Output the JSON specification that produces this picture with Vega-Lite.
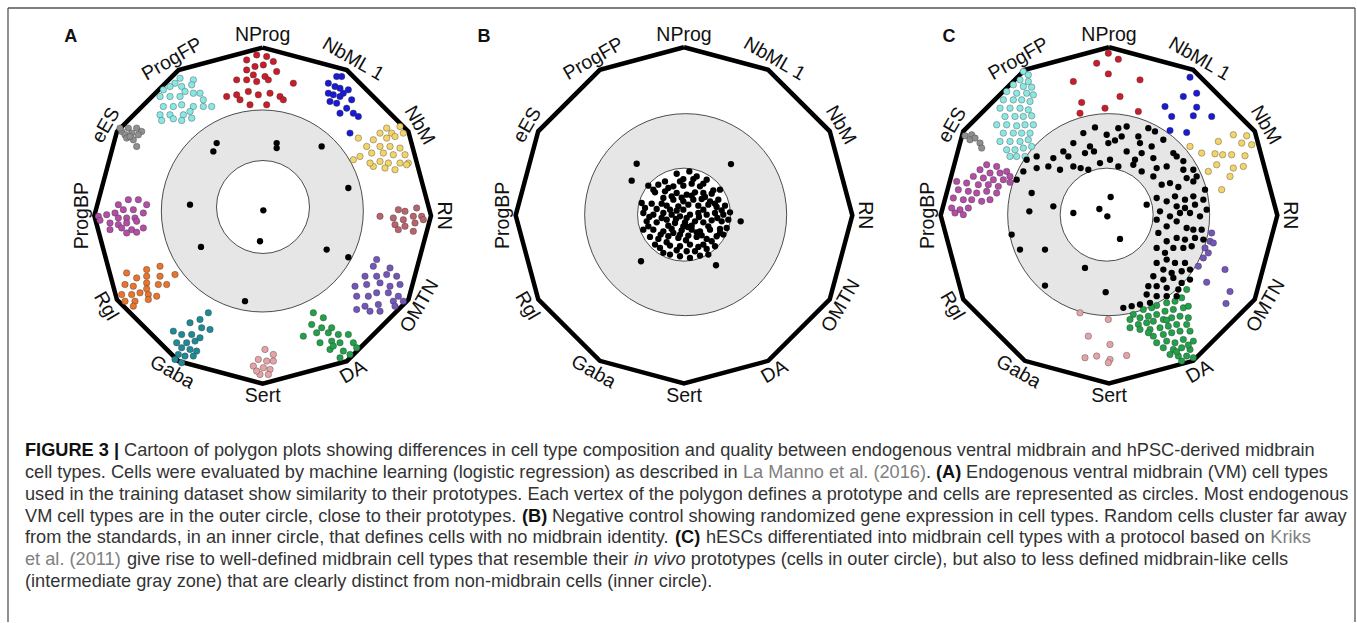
{
"$schema":"https://vega.github.io/schema/vega-lite/v6.json",
"width":1357,"height":623,
"autosize":{"type":"fit","contains":"padding"},
"padding":0,
"background":"white",
"config":{"view":{"stroke":null}},
"datasets":{
"frame":[{"x":24,"y":24,"x2":4065,"y2":24},{"x":24,"y":24,"x2":24,"y2":1869},{"x":4065,"y":24,"x2":4065,"y2":1869}],
"rings":[{"r":"o","x":787,"y":634},{"r":"i","x":789,"y":622},{"r":"o","x":2057,"y":645},{"r":"i","x":2052,"y":645},{"r":"o","x":3326,"y":645},{"r":"i","x":3320,"y":645}],
"poly":[
{"p":"A","k":0,"x":788,"y":143},{"p":"A","k":1,"x":1040.5,"y":210.7},{"p":"A","k":2,"x":1225.3,"y":395.5},{"p":"A","k":3,"x":1293,"y":648},{"p":"A","k":4,"x":1225.3,"y":900.5},{"p":"A","k":5,"x":1040.5,"y":1085.3},{"p":"A","k":6,"x":788,"y":1153},{"p":"A","k":7,"x":535.5,"y":1085.3},{"p":"A","k":8,"x":350.7,"y":900.5},{"p":"A","k":9,"x":283,"y":648},{"p":"A","k":10,"x":350.7,"y":395.5},{"p":"A","k":11,"x":535.5,"y":210.7},{"p":"A","k":12,"x":788,"y":143},
{"p":"B","k":0,"x":2052,"y":142},{"p":"B","k":1,"x":2304.5,"y":209.7},{"p":"B","k":2,"x":2489.3,"y":394.5},{"p":"B","k":3,"x":2557,"y":647},{"p":"B","k":4,"x":2489.3,"y":899.5},{"p":"B","k":5,"x":2304.5,"y":1084.3},{"p":"B","k":6,"x":2052,"y":1152},{"p":"B","k":7,"x":1799.5,"y":1084.3},{"p":"B","k":8,"x":1614.7,"y":899.5},{"p":"B","k":9,"x":1547,"y":647},{"p":"B","k":10,"x":1614.7,"y":394.5},{"p":"B","k":11,"x":1799.5,"y":209.7},{"p":"B","k":12,"x":2052,"y":142},
{"p":"C","k":0,"x":3327,"y":142},{"p":"C","k":1,"x":3579.5,"y":209.7},{"p":"C","k":2,"x":3764.3,"y":394.5},{"p":"C","k":3,"x":3832,"y":647},{"p":"C","k":4,"x":3764.3,"y":899.5},{"p":"C","k":5,"x":3579.5,"y":1084.3},{"p":"C","k":6,"x":3327,"y":1152},{"p":"C","k":7,"x":3074.5,"y":1084.3},{"p":"C","k":8,"x":2889.7,"y":899.5},{"p":"C","k":9,"x":2822,"y":647},{"p":"C","k":10,"x":2889.7,"y":394.5},{"p":"C","k":11,"x":3074.5,"y":209.7},{"p":"C","k":12,"x":3327,"y":142}
],
"labels":[
{"t":"NProg","k":0,"x":788,"y":105},{"t":"NbML 1","k":1,"x":1059.5,"y":177.8},{"t":"NbM","k":2,"x":1258.2,"y":376.5},{"t":"RN","k":3,"x":1331,"y":648},{"t":"OMTN","k":4,"x":1258.2,"y":919.5},{"t":"DA","k":5,"x":1059.5,"y":1118.2},{"t":"Sert","k":6,"x":788,"y":1191},{"t":"Gaba","k":7,"x":516.5,"y":1118.2},{"t":"Rgl","k":8,"x":317.8,"y":919.5},{"t":"ProgBP","k":9,"x":245,"y":648},{"t":"eES","k":10,"x":317.8,"y":376.5},{"t":"ProgFP","k":11,"x":516.5,"y":177.8},
{"t":"NProg","k":0,"x":2052,"y":104},{"t":"NbML 1","k":1,"x":2323.5,"y":176.8},{"t":"NbM","k":2,"x":2522.2,"y":375.5},{"t":"RN","k":3,"x":2595,"y":647},{"t":"OMTN","k":4,"x":2522.2,"y":918.5},{"t":"DA","k":5,"x":2323.5,"y":1117.2},{"t":"Sert","k":6,"x":2052,"y":1190},{"t":"Gaba","k":7,"x":1780.5,"y":1117.2},{"t":"Rgl","k":8,"x":1581.8,"y":918.5},{"t":"ProgBP","k":9,"x":1509,"y":647},{"t":"eES","k":10,"x":1581.8,"y":375.5},{"t":"ProgFP","k":11,"x":1780.5,"y":176.8},
{"t":"NProg","k":0,"x":3327,"y":104},{"t":"NbML 1","k":1,"x":3598.5,"y":176.8},{"t":"NbM","k":2,"x":3797.2,"y":375.5},{"t":"RN","k":3,"x":3870,"y":647},{"t":"OMTN","k":4,"x":3797.2,"y":918.5},{"t":"DA","k":5,"x":3598.5,"y":1117.2},{"t":"Sert","k":6,"x":3327,"y":1190},{"t":"Gaba","k":7,"x":3055.5,"y":1117.2},{"t":"Rgl","k":8,"x":2856.8,"y":918.5},{"t":"ProgBP","k":9,"x":2784,"y":647},{"t":"eES","k":10,"x":2856.8,"y":375.5},{"t":"ProgFP","k":11,"x":3055.5,"y":176.8}
],
"letters":[{"t":"A","x":212,"y":111},{"t":"B","x":1452,"y":111},{"t":"C","x":2847,"y":111}],
"cap":[
{"k":"b","x":75,"y":1356,"t":"FIGURE 3 |"},
{"k":"n","x":372,"y":1356,"t":"Cartoon of polygon plots showing differences in cell type composition and quality between endogenous ventral midbrain and hPSC-derived midbrain"},
{"k":"n","x":75,"y":1421,"t":"cell types. Cells were evaluated by machine learning (logistic regression) as described in"},
{"k":"l","x":2229,"y":1421,"t":"La Manno et al. (2016)"},
{"k":"n","x":2778,"y":1421,"t":"."},
{"k":"b","x":2808,"y":1421,"t":"(A)"},
{"k":"n","x":2898,"y":1421,"t":"Endogenous ventral midbrain (VM) cell types"},
{"k":"n","x":75,"y":1487,"t":"used in the training dataset show similarity to their prototypes. Each vertex of the polygon defines a prototype and cells are represented as circles. Most endogenous"},
{"k":"n","x":75,"y":1552,"t":"VM cell types are in the outer circle, close to their prototypes."},
{"k":"b","x":1566,"y":1552,"t":"(B)"},
{"k":"n","x":1656,"y":1552,"t":"Negative control showing randomized gene expression in cell types. Random cells cluster far away"},
{"k":"n","x":75,"y":1618,"t":"from the standards, in an inner circle, that defines cells with no midbrain identity."},
{"k":"b","x":2025,"y":1618,"t":"(C)"},
{"k":"n","x":2118,"y":1618,"t":"hESCs differentiated into midbrain cell types with a protocol based on"},
{"k":"l","x":3811,"y":1618,"t":"Kriks"},
{"k":"l","x":75,"y":1683,"t":"et al. (2011)"},
{"k":"n","x":381,"y":1683,"t":"give rise to well-defined midbrain cell types that resemble their"},
{"k":"i","x":1902,"y":1683,"t":"in vivo"},
{"k":"n","x":2072,"y":1683,"t":"prototypes (cells in outer circle), but also to less defined midbrain-like cells"},
{"k":"n","x":75,"y":1748,"t":"(intermediate gray zone) that are clearly distinct from non-midbrain cells (inner circle)."}
],
"pts":[
{"c":"NProg","x":740,"y":180},{"c":"NProg","x":770,"y":165},{"c":"NProg","x":800,"y":170},{"c":"NProg","x":820,"y":185},{"c":"NProg","x":740,"y":210},{"c":"NProg","x":765,"y":200},{"c":"NProg","x":790,"y":195},{"c":"NProg","x":760,"y":225},{"c":"NProg","x":795,"y":230},{"c":"NProg","x":830,"y":215},{"c":"NProg","x":710,"y":240},{"c":"NProg","x":740,"y":240},{"c":"NProg","x":770,"y":245},{"c":"NProg","x":805,"y":240},{"c":"NProg","x":880,"y":250},{"c":"NProg","x":680,"y":290},{"c":"NProg","x":710,"y":285},{"c":"NProg","x":745,"y":275},{"c":"NProg","x":775,"y":285},{"c":"NProg","x":810,"y":280},{"c":"NProg","x":840,"y":290},{"c":"NProg","x":850,"y":300},{"c":"NProg","x":800,"y":315},{"c":"NProg","x":750,"y":315},{"c":"NProg","x":720,"y":300},
{"c":"NbML1","x":1010,"y":230},{"c":"NbML1","x":1025,"y":230},{"c":"NbML1","x":985,"y":250},{"c":"NbML1","x":1005,"y":260},{"c":"NbML1","x":1020,"y":265},{"c":"NbML1","x":1045,"y":270},{"c":"NbML1","x":985,"y":280},{"c":"NbML1","x":1000,"y":285},{"c":"NbML1","x":1020,"y":290},{"c":"NbML1","x":1030,"y":280},{"c":"NbML1","x":1055,"y":300},{"c":"NbML1","x":990,"y":305},{"c":"NbML1","x":1010,"y":310},{"c":"NbML1","x":1040,"y":325},{"c":"NbML1","x":1020,"y":340},{"c":"NbML1","x":1060,"y":340},{"c":"NbML1","x":1075,"y":350},{"c":"NbML1","x":1050,"y":400},
{"c":"NbM","x":1160,"y":385},{"c":"NbM","x":1200,"y":380},{"c":"NbM","x":1140,"y":400},{"c":"NbM","x":1175,"y":400},{"c":"NbM","x":1210,"y":400},{"c":"NbM","x":1075,"y":415},{"c":"NbM","x":1120,"y":420},{"c":"NbM","x":1160,"y":415},{"c":"NbM","x":1185,"y":410},{"c":"NbM","x":1100,"y":440},{"c":"NbM","x":1140,"y":440},{"c":"NbM","x":1170,"y":440},{"c":"NbM","x":1200,"y":445},{"c":"NbM","x":1080,"y":470},{"c":"NbM","x":1115,"y":460},{"c":"NbM","x":1150,"y":460},{"c":"NbM","x":1180,"y":465},{"c":"NbM","x":1215,"y":465},{"c":"NbM","x":1140,"y":485},{"c":"NbM","x":1165,"y":490},{"c":"NbM","x":1200,"y":490},{"c":"NbM","x":1225,"y":490},{"c":"NbM","x":1120,"y":500},{"c":"NbM","x":1155,"y":505},{"c":"NbM","x":1185,"y":510},{"c":"NbM","x":1220,"y":495},{"c":"NbM","x":1060,"y":480},{"c":"NbM","x":1110,"y":490},
{"c":"RN","x":1140,"y":650},{"c":"RN","x":1195,"y":630},{"c":"RN","x":1215,"y":635},{"c":"RN","x":1250,"y":625},{"c":"RN","x":1180,"y":655},{"c":"RN","x":1210,"y":660},{"c":"RN","x":1240,"y":650},{"c":"RN","x":1265,"y":650},{"c":"RN","x":1185,"y":675},{"c":"RN","x":1215,"y":680},{"c":"RN","x":1245,"y":670},{"c":"RN","x":1270,"y":660},{"c":"RN","x":1195,"y":690},{"c":"RN","x":1240,"y":695},
{"c":"OMTN","x":1130,"y":780},{"c":"OMTN","x":1120,"y":800},{"c":"OMTN","x":1170,"y":805},{"c":"OMTN","x":1095,"y":830},{"c":"OMTN","x":1130,"y":830},{"c":"OMTN","x":1160,"y":825},{"c":"OMTN","x":1190,"y":830},{"c":"OMTN","x":1065,"y":860},{"c":"OMTN","x":1100,"y":855},{"c":"OMTN","x":1140,"y":850},{"c":"OMTN","x":1170,"y":860},{"c":"OMTN","x":1200,"y":855},{"c":"OMTN","x":1070,"y":890},{"c":"OMTN","x":1105,"y":890},{"c":"OMTN","x":1130,"y":880},{"c":"OMTN","x":1165,"y":880},{"c":"OMTN","x":1195,"y":890},{"c":"OMTN","x":1070,"y":930},{"c":"OMTN","x":1095,"y":920},{"c":"OMTN","x":1135,"y":915},{"c":"OMTN","x":1180,"y":905},{"c":"OMTN","x":1210,"y":905},{"c":"OMTN","x":1110,"y":935},{"c":"OMTN","x":1140,"y":935},{"c":"OMTN","x":1185,"y":920},
{"c":"DA","x":940,"y":940},{"c":"DA","x":970,"y":955},{"c":"DA","x":935,"y":975},{"c":"DA","x":965,"y":985},{"c":"DA","x":995,"y":985},{"c":"DA","x":910,"y":1010},{"c":"DA","x":950,"y":1000},{"c":"DA","x":985,"y":1000},{"c":"DA","x":1015,"y":1005},{"c":"DA","x":1045,"y":1005},{"c":"DA","x":960,"y":1030},{"c":"DA","x":995,"y":1025},{"c":"DA","x":1020,"y":1030},{"c":"DA","x":1060,"y":1030},{"c":"DA","x":990,"y":1050},{"c":"DA","x":1030,"y":1055},{"c":"DA","x":1020,"y":1075},{"c":"DA","x":1050,"y":1065},{"c":"DA","x":1000,"y":1040},{"c":"DA","x":1070,"y":1045},
{"c":"Sert","x":795,"y":1050},{"c":"Sert","x":820,"y":1065},{"c":"Sert","x":775,"y":1080},{"c":"Sert","x":800,"y":1085},{"c":"Sert","x":820,"y":1085},{"c":"Sert","x":760,"y":1100},{"c":"Sert","x":790,"y":1105},{"c":"Sert","x":810,"y":1110},{"c":"Sert","x":780,"y":1125},{"c":"Sert","x":805,"y":1125},{"c":"Sert","x":770,"y":1115},
{"c":"Gaba","x":625,"y":940},{"c":"Gaba","x":600,"y":960},{"c":"Gaba","x":570,"y":970},{"c":"Gaba","x":605,"y":985},{"c":"Gaba","x":630,"y":990},{"c":"Gaba","x":520,"y":995},{"c":"Gaba","x":545,"y":1005},{"c":"Gaba","x":575,"y":1005},{"c":"Gaba","x":600,"y":1015},{"c":"Gaba","x":530,"y":1030},{"c":"Gaba","x":560,"y":1030},{"c":"Gaba","x":585,"y":1025},{"c":"Gaba","x":545,"y":1045},{"c":"Gaba","x":570,"y":1050},{"c":"Gaba","x":590,"y":1055},{"c":"Gaba","x":535,"y":1065},{"c":"Gaba","x":555,"y":1070},{"c":"Gaba","x":580,"y":1070},{"c":"Gaba","x":545,"y":1090},{"c":"Gaba","x":525,"y":1080},
{"c":"Rgl","x":480,"y":800},{"c":"Rgl","x":440,"y":810},{"c":"Rgl","x":480,"y":830},{"c":"Rgl","x":440,"y":830},{"c":"Rgl","x":525,"y":825},{"c":"Rgl","x":380,"y":820},{"c":"Rgl","x":410,"y":835},{"c":"Rgl","x":375,"y":855},{"c":"Rgl","x":400,"y":860},{"c":"Rgl","x":440,"y":850},{"c":"Rgl","x":475,"y":855},{"c":"Rgl","x":500,"y":855},{"c":"Rgl","x":365,"y":885},{"c":"Rgl","x":395,"y":885},{"c":"Rgl","x":420,"y":880},{"c":"Rgl","x":445,"y":885},{"c":"Rgl","x":470,"y":890},{"c":"Rgl","x":375,"y":905},{"c":"Rgl","x":405,"y":905},{"c":"Rgl","x":445,"y":900},{"c":"Rgl","x":400,"y":920},{"c":"Rgl","x":440,"y":868},
{"c":"ProgBP","x":385,"y":600},{"c":"ProgBP","x":415,"y":600},{"c":"ProgBP","x":440,"y":615},{"c":"ProgBP","x":355,"y":615},{"c":"ProgBP","x":370,"y":630},{"c":"ProgBP","x":400,"y":630},{"c":"ProgBP","x":430,"y":640},{"c":"ProgBP","x":295,"y":650},{"c":"ProgBP","x":320,"y":645},{"c":"ProgBP","x":345,"y":640},{"c":"ProgBP","x":355,"y":655},{"c":"ProgBP","x":380,"y":655},{"c":"ProgBP","x":405,"y":655},{"c":"ProgBP","x":330,"y":670},{"c":"ProgBP","x":355,"y":675},{"c":"ProgBP","x":380,"y":670},{"c":"ProgBP","x":410,"y":665},{"c":"ProgBP","x":330,"y":690},{"c":"ProgBP","x":365,"y":685},{"c":"ProgBP","x":395,"y":690},{"c":"ProgBP","x":430,"y":685},{"c":"ProgBP","x":380,"y":700},{"c":"ProgBP","x":410,"y":698},{"c":"ProgBP","x":300,"y":662},
{"c":"eES","x":365,"y":395},{"c":"eES","x":385,"y":385},{"c":"eES","x":410,"y":385},{"c":"eES","x":425,"y":395},{"c":"eES","x":375,"y":405},{"c":"eES","x":395,"y":400},{"c":"eES","x":415,"y":405},{"c":"eES","x":380,"y":415},{"c":"eES","x":400,"y":420},{"c":"eES","x":410,"y":440},{"c":"eES","x":390,"y":410},{"c":"eES","x":360,"y":385},
{"c":"ProgFP","x":540,"y":235},{"c":"ProgFP","x":525,"y":250},{"c":"ProgFP","x":580,"y":240},{"c":"ProgFP","x":510,"y":260},{"c":"ProgFP","x":490,"y":270},{"c":"ProgFP","x":545,"y":260},{"c":"ProgFP","x":575,"y":255},{"c":"ProgFP","x":555,"y":275},{"c":"ProgFP","x":480,"y":290},{"c":"ProgFP","x":510,"y":290},{"c":"ProgFP","x":540,"y":290},{"c":"ProgFP","x":580,"y":280},{"c":"ProgFP","x":600,"y":280},{"c":"ProgFP","x":490,"y":320},{"c":"ProgFP","x":520,"y":320},{"c":"ProgFP","x":545,"y":315},{"c":"ProgFP","x":580,"y":320},{"c":"ProgFP","x":610,"y":320},{"c":"ProgFP","x":635,"y":320},{"c":"ProgFP","x":480,"y":345},{"c":"ProgFP","x":510,"y":345},{"c":"ProgFP","x":550,"y":345},{"c":"ProgFP","x":575,"y":355},{"c":"ProgFP","x":520,"y":357},{"c":"ProgFP","x":485,"y":362},{"c":"ProgFP","x":545,"y":362},{"c":"ProgFP","x":570,"y":335},{"c":"ProgFP","x":610,"y":300},
{"c":"none","x":650,"y":430},{"c":"none","x":640,"y":455},{"c":"none","x":830,"y":430},{"c":"none","x":830,"y":445},{"c":"none","x":965,"y":440},{"c":"none","x":1045,"y":565},{"c":"none","x":570,"y":615},{"c":"none","x":790,"y":632},{"c":"none","x":780,"y":725},{"c":"none","x":603,"y":742},{"c":"none","x":980,"y":750},{"c":"none","x":1045,"y":773},{"c":"none","x":735,"y":905},
{"c":"none","x":1910,"y":492},{"c":"none","x":2193,"y":493},{"c":"none","x":1895,"y":543},{"c":"none","x":2222,"y":665},{"c":"none","x":1923,"y":785},{"c":"none","x":2148,"y":797},
{"c":"none","x":2030,"y":522},{"c":"none","x":2068,"y":515},{"c":"none","x":2090,"y":530},{"c":"none","x":2120,"y":540},{"c":"none","x":1995,"y":545},{"c":"none","x":2050,"y":538},{"c":"none","x":1945,"y":558},{"c":"none","x":1975,"y":555},{"c":"none","x":2020,"y":560},{"c":"none","x":2050,"y":558},{"c":"none","x":2075,"y":552},{"c":"none","x":2100,"y":560},{"c":"none","x":2140,"y":572},{"c":"none","x":2160,"y":570},{"c":"none","x":1965,"y":578},{"c":"none","x":1995,"y":575},{"c":"none","x":2030,"y":580},{"c":"none","x":2060,"y":585},{"c":"none","x":2085,"y":578},{"c":"none","x":2110,"y":580},{"c":"none","x":2135,"y":582},{"c":"none","x":1990,"y":595},{"c":"none","x":2020,"y":600},{"c":"none","x":2050,"y":605},{"c":"none","x":2080,"y":600},{"c":"none","x":2105,"y":598},{"c":"none","x":2130,"y":605},{"c":"none","x":2155,"y":600},{"c":"none","x":1925,"y":610},{"c":"none","x":1955,"y":612},{"c":"none","x":1970,"y":628},{"c":"none","x":2000,"y":618},{"c":"none","x":2035,"y":620},{"c":"none","x":2065,"y":615},{"c":"none","x":2095,"y":618},{"c":"none","x":2125,"y":615},{"c":"none","x":2150,"y":622},{"c":"none","x":2175,"y":618},{"c":"none","x":1930,"y":640},{"c":"none","x":1960,"y":645},{"c":"none","x":1990,"y":640},{"c":"none","x":2015,"y":645},{"c":"none","x":2040,"y":650},{"c":"none","x":2070,"y":645},{"c":"none","x":2095,"y":640},{"c":"none","x":2120,"y":645},{"c":"none","x":2145,"y":640},{"c":"none","x":2170,"y":645},{"c":"none","x":2190,"y":638},{"c":"none","x":1940,"y":665},{"c":"none","x":1970,"y":668},{"c":"none","x":2000,"y":660},{"c":"none","x":2025,"y":670},{"c":"none","x":2055,"y":668},{"c":"none","x":2085,"y":665},{"c":"none","x":2110,"y":668},{"c":"none","x":2135,"y":662},{"c":"none","x":2165,"y":665},{"c":"none","x":2185,"y":660},{"c":"none","x":1930,"y":690},{"c":"none","x":1960,"y":690},{"c":"none","x":1990,"y":695},{"c":"none","x":2015,"y":688},{"c":"none","x":2045,"y":692},{"c":"none","x":2075,"y":690},{"c":"none","x":2100,"y":695},{"c":"none","x":2130,"y":690},{"c":"none","x":2160,"y":688},{"c":"none","x":2180,"y":685},{"c":"none","x":1950,"y":712},{"c":"none","x":1975,"y":718},{"c":"none","x":2005,"y":710},{"c":"none","x":2035,"y":715},{"c":"none","x":2065,"y":708},{"c":"none","x":2090,"y":712},{"c":"none","x":2120,"y":718},{"c":"none","x":2150,"y":710},{"c":"none","x":2170,"y":705},{"c":"none","x":1980,"y":745},{"c":"none","x":2010,"y":738},{"c":"none","x":2040,"y":740},{"c":"none","x":2070,"y":735},{"c":"none","x":2095,"y":742},{"c":"none","x":2120,"y":748},{"c":"none","x":2145,"y":740},{"c":"none","x":2010,"y":765},{"c":"none","x":2040,"y":770},{"c":"none","x":2070,"y":775},{"c":"none","x":2100,"y":768},{"c":"none","x":1990,"y":760},{"c":"none","x":2125,"y":765},{"c":"none","x":2050,"y":630},{"c":"none","x":2030,"y":633},{"c":"none","x":2060,"y":655},{"c":"none","x":2075,"y":678},{"c":"none","x":2040,"y":705},{"c":"none","x":2050,"y":680},{"c":"none","x":2010,"y":630},{"c":"none","x":2090,"y":698},{"c":"none","x":2005,"y":678},{"c":"none","x":2110,"y":630},
{"c":"none","x":1935,"y":625},{"c":"none","x":1985,"y":612},{"c":"none","x":2015,"y":590},{"c":"none","x":2045,"y":594},{"c":"none","x":2075,"y":588},{"c":"none","x":2115,"y":592},{"c":"none","x":2145,"y":612},{"c":"none","x":2165,"y":632},{"c":"none","x":1948,"y":652},{"c":"none","x":1985,"y":655},{"c":"none","x":2028,"y":658},{"c":"none","x":2063,"y":682},{"c":"none","x":2097,"y":652},{"c":"none","x":2125,"y":680},{"c":"none","x":2152,"y":655},{"c":"none","x":1945,"y":680},{"c":"none","x":1982,"y":705},{"c":"none","x":2020,"y":700},{"c":"none","x":2058,"y":722},{"c":"none","x":2105,"y":707},{"c":"none","x":2135,"y":725},{"c":"none","x":2160,"y":700},{"c":"none","x":2000,"y":728},{"c":"none","x":2030,"y":752},{"c":"none","x":2060,"y":755},{"c":"none","x":2085,"y":755},{"c":"none","x":2110,"y":735},{"c":"none","x":1965,"y":735},{"c":"none","x":2005,"y":565},{"c":"none","x":2110,"y":552},{"c":"none","x":2080,"y":538},{"c":"none","x":2040,"y":545},{"c":"none","x":1960,"y":570},
{"c":"NProg","x":3325,"y":160},{"c":"NProg","x":3355,"y":178},{"c":"NProg","x":3290,"y":190},{"c":"NProg","x":3325,"y":222},{"c":"NProg","x":3420,"y":240},{"c":"NProg","x":3220,"y":245},{"c":"NProg","x":3360,"y":290},{"c":"NProg","x":3245,"y":308},{"c":"NProg","x":3315,"y":325},{"c":"NProg","x":3415,"y":335},{"c":"NProg","x":3240,"y":340},
{"c":"NbML1","x":3570,"y":232},{"c":"NbML1","x":3590,"y":280},{"c":"NbML1","x":3550,"y":290},{"c":"NbML1","x":3495,"y":320},{"c":"NbML1","x":3590,"y":322},{"c":"NbML1","x":3580,"y":348},{"c":"NbML1","x":3515,"y":350},{"c":"NbML1","x":3635,"y":350},{"c":"NbML1","x":3510,"y":392},{"c":"NbML1","x":3560,"y":398},
{"c":"NbM","x":3700,"y":405},{"c":"NbM","x":3740,"y":408},{"c":"NbM","x":3725,"y":430},{"c":"NbM","x":3755,"y":435},{"c":"NbM","x":3570,"y":440},{"c":"NbM","x":3655,"y":425},{"c":"NbM","x":3605,"y":460},{"c":"NbM","x":3645,"y":462},{"c":"NbM","x":3668,"y":465},{"c":"NbM","x":3695,"y":465},{"c":"NbM","x":3735,"y":468},{"c":"NbM","x":3730,"y":500},{"c":"NbM","x":3700,"y":505},{"c":"NbM","x":3650,"y":495},{"c":"NbM","x":3625,"y":515},{"c":"NbM","x":3690,"y":530},{"c":"NbM","x":3665,"y":570},
{"c":"OMTN","x":3635,"y":700},{"c":"OMTN","x":3630,"y":725},{"c":"OMTN","x":3615,"y":745},{"c":"OMTN","x":3625,"y":760},{"c":"OMTN","x":3610,"y":775},{"c":"OMTN","x":3595,"y":800},{"c":"OMTN","x":3675,"y":810},{"c":"OMTN","x":3620,"y":848},{"c":"OMTN","x":3690,"y":876},{"c":"OMTN","x":3678,"y":912},{"c":"OMTN","x":3640,"y":730},
{"c":"DA","x":3560,"y":870},{"c":"DA","x":3545,"y":895},{"c":"DA","x":3525,"y":905},{"c":"DA","x":3500,"y":910},{"c":"DA","x":3470,"y":918},{"c":"DA","x":3455,"y":925},{"c":"DA","x":3430,"y":930},{"c":"DA","x":3400,"y":945},{"c":"DA","x":3390,"y":960},{"c":"DA","x":3420,"y":955},{"c":"DA","x":3445,"y":950},{"c":"DA","x":3470,"y":945},{"c":"DA","x":3495,"y":935},{"c":"DA","x":3520,"y":930},{"c":"DA","x":3550,"y":925},{"c":"DA","x":3565,"y":920},{"c":"DA","x":3415,"y":975},{"c":"DA","x":3440,"y":970},{"c":"DA","x":3460,"y":965},{"c":"DA","x":3490,"y":960},{"c":"DA","x":3515,"y":955},{"c":"DA","x":3540,"y":950},{"c":"DA","x":3565,"y":955},{"c":"DA","x":3390,"y":985},{"c":"DA","x":3420,"y":990},{"c":"DA","x":3450,"y":990},{"c":"DA","x":3480,"y":985},{"c":"DA","x":3505,"y":980},{"c":"DA","x":3530,"y":975},{"c":"DA","x":3560,"y":975},{"c":"DA","x":3460,"y":1010},{"c":"DA","x":3490,"y":1005},{"c":"DA","x":3515,"y":1000},{"c":"DA","x":3540,"y":995},{"c":"DA","x":3570,"y":995},{"c":"DA","x":3470,"y":1030},{"c":"DA","x":3500,"y":1025},{"c":"DA","x":3525,"y":1030},{"c":"DA","x":3550,"y":1020},{"c":"DA","x":3580,"y":1025},{"c":"DA","x":3490,"y":1045},{"c":"DA","x":3520,"y":1050},{"c":"DA","x":3545,"y":1045},{"c":"DA","x":3570,"y":1050},{"c":"DA","x":3510,"y":1065},{"c":"DA","x":3535,"y":1070},{"c":"DA","x":3560,"y":1070},{"c":"DA","x":3580,"y":1075},{"c":"DA","x":3545,"y":1085},{"c":"DA","x":3530,"y":1057},{"c":"DA","x":3565,"y":1037},{"c":"DA","x":3500,"y":962},{"c":"DA","x":3445,"y":1000},
{"c":"Sert","x":3240,"y":940},{"c":"Sert","x":3325,"y":960},{"c":"Sert","x":3265,"y":1010},{"c":"Sert","x":3330,"y":1035},{"c":"Sert","x":3255,"y":1075},{"c":"Sert","x":3290,"y":1070},{"c":"Sert","x":3330,"y":1080},{"c":"Sert","x":3380,"y":1068},{"c":"Sert","x":3325,"y":1090},
{"c":"eES","x":2895,"y":408},{"c":"eES","x":2915,"y":405},{"c":"eES","x":2910,"y":420},{"c":"eES","x":2940,"y":430},{"c":"eES","x":2945,"y":445},{"c":"eES","x":2925,"y":415},
{"c":"ProgBP","x":2960,"y":495},{"c":"ProgBP","x":2990,"y":500},{"c":"ProgBP","x":2940,"y":510},{"c":"ProgBP","x":2970,"y":520},{"c":"ProgBP","x":3000,"y":520},{"c":"ProgBP","x":3020,"y":515},{"c":"ProgBP","x":2920,"y":530},{"c":"ProgBP","x":2950,"y":535},{"c":"ProgBP","x":2980,"y":540},{"c":"ProgBP","x":3010,"y":540},{"c":"ProgBP","x":2870,"y":545},{"c":"ProgBP","x":2900,"y":550},{"c":"ProgBP","x":2935,"y":555},{"c":"ProgBP","x":2965,"y":555},{"c":"ProgBP","x":2995,"y":560},{"c":"ProgBP","x":2875,"y":570},{"c":"ProgBP","x":2905,"y":575},{"c":"ProgBP","x":2930,"y":580},{"c":"ProgBP","x":2960,"y":575},{"c":"ProgBP","x":2990,"y":580},{"c":"ProgBP","x":2860,"y":595},{"c":"ProgBP","x":2890,"y":600},{"c":"ProgBP","x":2915,"y":600},{"c":"ProgBP","x":2945,"y":605},{"c":"ProgBP","x":2970,"y":600},{"c":"ProgBP","x":2855,"y":625},{"c":"ProgBP","x":2880,"y":630},{"c":"ProgBP","x":2905,"y":625},{"c":"ProgBP","x":2890,"y":645},{"c":"ProgBP","x":2865,"y":640},{"c":"ProgBP","x":3030,"y":530},{"c":"ProgBP","x":3030,"y":548},
{"c":"ProgFP","x":3070,"y":215},{"c":"ProgFP","x":3085,"y":225},{"c":"ProgFP","x":3060,"y":240},{"c":"ProgFP","x":3085,"y":245},{"c":"ProgFP","x":3040,"y":255},{"c":"ProgFP","x":3070,"y":260},{"c":"ProgFP","x":3095,"y":262},{"c":"ProgFP","x":3020,"y":275},{"c":"ProgFP","x":3050,"y":280},{"c":"ProgFP","x":3080,"y":280},{"c":"ProgFP","x":3100,"y":285},{"c":"ProgFP","x":3010,"y":300},{"c":"ProgFP","x":3040,"y":300},{"c":"ProgFP","x":3065,"y":300},{"c":"ProgFP","x":3090,"y":305},{"c":"ProgFP","x":3000,"y":325},{"c":"ProgFP","x":3030,"y":325},{"c":"ProgFP","x":3060,"y":325},{"c":"ProgFP","x":3085,"y":330},{"c":"ProgFP","x":3015,"y":350},{"c":"ProgFP","x":3045,"y":350},{"c":"ProgFP","x":3070,"y":350},{"c":"ProgFP","x":3095,"y":348},{"c":"ProgFP","x":2990,"y":375},{"c":"ProgFP","x":3020,"y":375},{"c":"ProgFP","x":3050,"y":378},{"c":"ProgFP","x":3075,"y":375},{"c":"ProgFP","x":3100,"y":375},{"c":"ProgFP","x":3010,"y":400},{"c":"ProgFP","x":3040,"y":400},{"c":"ProgFP","x":3065,"y":400},{"c":"ProgFP","x":3090,"y":400},{"c":"ProgFP","x":3000,"y":425},{"c":"ProgFP","x":3030,"y":425},{"c":"ProgFP","x":3060,"y":425},{"c":"ProgFP","x":3085,"y":420},{"c":"ProgFP","x":3020,"y":450},{"c":"ProgFP","x":3045,"y":450},{"c":"ProgFP","x":3070,"y":445},{"c":"ProgFP","x":3095,"y":440},{"c":"ProgFP","x":3050,"y":470},{"c":"ProgFP","x":3075,"y":470},{"c":"ProgFP","x":3030,"y":470},
{"c":"none","x":3285,"y":383},{"c":"none","x":3355,"y":385},{"c":"none","x":3380,"y":380},{"c":"none","x":3445,"y":385},{"c":"none","x":3250,"y":400},{"c":"none","x":3320,"y":405},{"c":"none","x":3365,"y":410},{"c":"none","x":3415,"y":410},{"c":"none","x":3465,"y":395},{"c":"none","x":3220,"y":430},{"c":"none","x":3270,"y":440},{"c":"none","x":3325,"y":430},{"c":"none","x":3345,"y":422},{"c":"none","x":3420,"y":430},{"c":"none","x":3455,"y":440},{"c":"none","x":3490,"y":420},{"c":"none","x":3190,"y":455},{"c":"none","x":3255,"y":460},{"c":"none","x":3282,"y":455},{"c":"none","x":3380,"y":455},{"c":"none","x":3425,"y":460},{"c":"none","x":3520,"y":460},{"c":"none","x":3160,"y":475},{"c":"none","x":3205,"y":470},{"c":"none","x":3330,"y":480},{"c":"none","x":3405,"y":480},{"c":"none","x":3460,"y":475},{"c":"none","x":3530,"y":470},{"c":"none","x":3550,"y":484},{"c":"none","x":3220,"y":500},{"c":"none","x":3242,"y":505},{"c":"none","x":3300,"y":490},{"c":"none","x":3110,"y":470},{"c":"none","x":3080,"y":480},{"c":"none","x":3145,"y":500},{"c":"none","x":3110,"y":505},{"c":"none","x":3180,"y":510},{"c":"none","x":3265,"y":510},{"c":"none","x":3355,"y":500},{"c":"none","x":3400,"y":495},{"c":"none","x":3425,"y":515},{"c":"none","x":3470,"y":505},{"c":"none","x":3500,"y":500},{"c":"none","x":3550,"y":510},{"c":"none","x":3580,"y":510},{"c":"none","x":3460,"y":530},{"c":"none","x":3560,"y":535},{"c":"none","x":3590,"y":530},{"c":"none","x":3070,"y":515},{"c":"none","x":3095,"y":580},{"c":"none","x":3050,"y":540},{"c":"none","x":3485,"y":555},{"c":"none","x":3510,"y":550},{"c":"none","x":3535,"y":562},{"c":"none","x":3580,"y":545},{"c":"none","x":3615,"y":570},{"c":"none","x":3610,"y":600},{"c":"none","x":3525,"y":590},{"c":"none","x":3555,"y":600},{"c":"none","x":3580,"y":590},{"c":"none","x":3470,"y":595},{"c":"none","x":3500,"y":605},{"c":"none","x":3530,"y":620},{"c":"none","x":3555,"y":625},{"c":"none","x":3585,"y":615},{"c":"none","x":3620,"y":630},{"c":"none","x":3480,"y":635},{"c":"none","x":3510,"y":650},{"c":"none","x":3540,"y":640},{"c":"none","x":3570,"y":640},{"c":"none","x":3600,"y":650},{"c":"none","x":3470,"y":660},{"c":"none","x":3500,"y":680},{"c":"none","x":3530,"y":665},{"c":"none","x":3560,"y":685},{"c":"none","x":3580,"y":690},{"c":"none","x":3605,"y":690},{"c":"none","x":3475,"y":700},{"c":"none","x":3500,"y":725},{"c":"none","x":3530,"y":715},{"c":"none","x":3555,"y":720},{"c":"none","x":3585,"y":715},{"c":"none","x":3610,"y":720},{"c":"none","x":3470,"y":745},{"c":"none","x":3495,"y":760},{"c":"none","x":3520,"y":745},{"c":"none","x":3550,"y":745},{"c":"none","x":3575,"y":740},{"c":"none","x":3500,"y":780},{"c":"none","x":3525,"y":790},{"c":"none","x":3555,"y":790},{"c":"none","x":3470,"y":790},{"c":"none","x":3490,"y":810},{"c":"none","x":3515,"y":820},{"c":"none","x":3545,"y":815},{"c":"none","x":3570,"y":810},{"c":"none","x":3460,"y":830},{"c":"none","x":3490,"y":840},{"c":"none","x":3520,"y":835},{"c":"none","x":3545,"y":850},{"c":"none","x":3570,"y":840},{"c":"none","x":3445,"y":860},{"c":"none","x":3470,"y":860},{"c":"none","x":3500,"y":865},{"c":"none","x":3535,"y":870},{"c":"none","x":3440,"y":885},{"c":"none","x":3470,"y":890},{"c":"none","x":3500,"y":890},{"c":"none","x":3530,"y":890},{"c":"none","x":3450,"y":910},{"c":"none","x":3420,"y":915},{"c":"none","x":3395,"y":920},{"c":"none","x":3370,"y":925},{"c":"none","x":3160,"y":620},{"c":"none","x":3088,"y":635},{"c":"none","x":3220,"y":640},{"c":"none","x":3298,"y":628},{"c":"none","x":3332,"y":592},{"c":"none","x":3322,"y":650},{"c":"none","x":3440,"y":615},{"c":"none","x":3360,"y":718},{"c":"none","x":3035,"y":705},{"c":"none","x":3060,"y":750},{"c":"none","x":3135,"y":750},{"c":"none","x":3255,"y":805},{"c":"none","x":3135,"y":858},{"c":"none","x":3317,"y":878}
]
},
"encoding":{
"x":{"field":"x","type":"quantitative","scale":{"domain":[0,4071],"nice":false,"zero":false},"axis":null},
"y":{"field":"y","type":"quantitative","scale":{"domain":[0,1869],"nice":false,"zero":false,"reverse":true},"axis":null}
},
"layer":[
{"data":{"name":"frame"},"mark":{"type":"rule","stroke":"#555555","strokeWidth":1.3},"encoding":{"x2":{"field":"x2"},"y2":{"field":"y2"}}},
{"data":{"name":"rings"},"transform":[{"filter":"datum.r==='o'"}],"mark":{"type":"point","shape":"circle","filled":true,"size":40804,"fill":"#e6e6e6","stroke":"#222222","strokeWidth":0.8,"opacity":1}},
{"data":{"name":"rings"},"transform":[{"filter":"datum.r==='i'"}],"mark":{"type":"point","shape":"circle","filled":true,"size":8649,"fill":"#ffffff","stroke":"#222222","strokeWidth":0.8,"opacity":1}},
{"data":{"name":"poly"},"mark":{"type":"line","stroke":"#000000","strokeWidth":4.5,"strokeJoin":"miter"},"encoding":{"detail":{"field":"p"},"order":{"field":"k","type":"quantitative"}}},
{"data":{"name":"pts"},"transform":[{"filter":"datum.c!=='none'"}],"mark":{"type":"point","shape":"circle","filled":true,"size":42,"stroke":"#333333","strokeWidth":0.6,"strokeOpacity":0.6,"opacity":1},
 "encoding":{"fill":{"field":"c","type":"nominal","legend":null,"scale":{"domain":["NProg","NbML1","NbM","RN","OMTN","DA","Sert","Gaba","Rgl","ProgBP","eES","ProgFP"],"range":["#c81e2a","#1a1ad0","#f2d46a","#b8646e","#7356b8","#22a04a","#e6a3a6","#1f8a96","#e8742e","#b24ea6","#8f8f8f","#8ae8e4"]}}}},
{"data":{"name":"pts"},"transform":[{"filter":"datum.c==='none'"}],"mark":{"type":"point","shape":"circle","filled":true,"size":40,"fill":"#000000","opacity":1}},
{"data":{"name":"labels"},"mark":{"type":"text","align":"center","baseline":"middle","font":"Liberation Sans","fontSize":19.5,"fill":"#111111"},
 "encoding":{"text":{"field":"t"},"angle":{"field":"k","type":"nominal","legend":null,"scale":{"type":"ordinal","domain":[0,1,2,3,4,5,6,7,8,9,10,11],"range":[0,30,60,90,300,330,0,30,60,270,300,330]}}}},
{"data":{"name":"letters"},"mark":{"type":"text","align":"center","baseline":"middle","font":"Liberation Sans","fontSize":18,"fontWeight":"bold","fill":"#111111"},"encoding":{"text":{"field":"t"}}},
{"data":{"name":"cap"},"transform":[{"filter":"datum.k==='n'"}],"mark":{"type":"text","align":"left","baseline":"middle","font":"Liberation Sans","fontSize":18.2,"fill":"#333333"},"encoding":{"text":{"field":"t"}}},
{"data":{"name":"cap"},"transform":[{"filter":"datum.k==='b'"}],"mark":{"type":"text","align":"left","baseline":"middle","font":"Liberation Sans","fontSize":18.2,"fontWeight":"bold","fill":"#111111"},"encoding":{"text":{"field":"t"}}},
{"data":{"name":"cap"},"transform":[{"filter":"datum.k==='l'"}],"mark":{"type":"text","align":"left","baseline":"middle","font":"Liberation Sans","fontSize":18.2,"fill":"#808080"},"encoding":{"text":{"field":"t"}}},
{"data":{"name":"cap"},"transform":[{"filter":"datum.k==='i'"}],"mark":{"type":"text","align":"left","baseline":"middle","font":"Liberation Sans","fontSize":18.2,"fontStyle":"italic","fill":"#333333"},"encoding":{"text":{"field":"t"}}}
]
}
